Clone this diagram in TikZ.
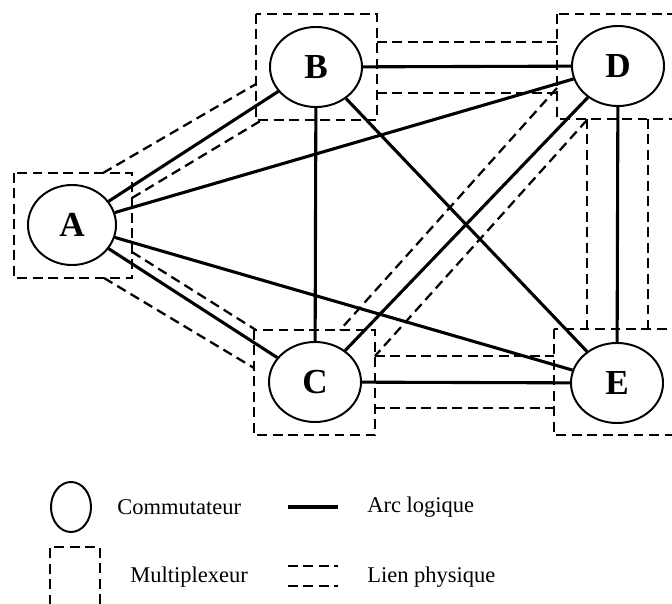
\documentclass[tikz,border=0pt]{standalone}
\usepackage{fontspec}
\setmainfont{Liberation Serif}
\usetikzlibrary{shapes.geometric}

\begin{document}
\begin{tikzpicture}[x=0.025cm, y=-0.025cm,
  switch/.style={ellipse, draw, line width=1.4pt, minimum width=2.3cm, minimum height=2cm, inner sep=0pt, font=\fontsize{25}{29}\selectfont\bfseries},
  arc/.style={line width=2.2pt},
  link/.style={line width=1.6pt, dash pattern=on 7pt off 4pt},
  legend/.style={anchor=west, inner sep=0pt, font=\fontsize{16}{19}\selectfont}]
\clip (0,0) rectangle (672,604);
%\draw[help lines] (0,0) grid (672,604);
% multiplexeurs
\draw[link] (14,173) rectangle (132,278);
\draw[link] (256,14) rectangle (377,120);
\draw[link] (254,330) rectangle (375,435);
\draw[link] (557,14) rectangle (690,119);
\draw[link] (554,329) rectangle (690,435);
% liens physiques
\draw[link] (103,173) -- (256,84);
\draw[link] (132,198) -- (262,120);
\draw[link] (132,252) -- (256,330);
\draw[link] (104,278) -- (254,368);
\draw[link] (377,42) -- (557,42);
\draw[link] (377,93) -- (557,93);
\draw[link] (557,88) -- (340,330);
\draw[link] (587,120) -- (375,356);
\draw[link] (375,356) -- (554,356);
\draw[link] (375,408) -- (554,408);
\draw[link] (587,119) -- (587,329);
\draw[link] (648,119) -- (648,329);
% commutateurs
\node[switch, minimum width=2.2cm] (A) at (72,225) {A};
\node[switch] (B) at (316,67) {B};
\node[switch] (C) at (315,382) {C};
\node[switch] (D) at (618,66) {D};
\node[switch] (E) at (617,383) {E};
% arcs logiques
\draw[arc] (A) -- (B);
\draw[arc] (A) -- (D);
\draw[arc] (A) -- (C);
\draw[arc] (A) -- (E);
\draw[arc] (B) -- (D);
\draw[arc] (B) -- (C);
\draw[arc] (B) -- (E);
\draw[arc] (C) -- (D);
\draw[arc] (C) -- (E);
\draw[arc] (D) -- (E);
% legende
\node[ellipse, draw, line width=1.4pt, minimum width=1cm, minimum height=1.25cm] (lsw) at (71,507) {};
\node[legend] (lcom) at (117,507) {Commutateur};
\draw[arc] (288,507) -- (338,507);
\node[legend] (larc) at (367,507) {Arc logique};
\draw[link] (50,620) -- (50,547) -- (100,547) -- (100,620);
\node[legend] (lmux) at (130,577) {Multiplexeur};
\draw[link] (288,566) -- (338,566);
\draw[link] (288,586) -- (338,586);
\node[legend] (llien) at (367,577) {Lien physique};
\end{tikzpicture}
\end{document}
